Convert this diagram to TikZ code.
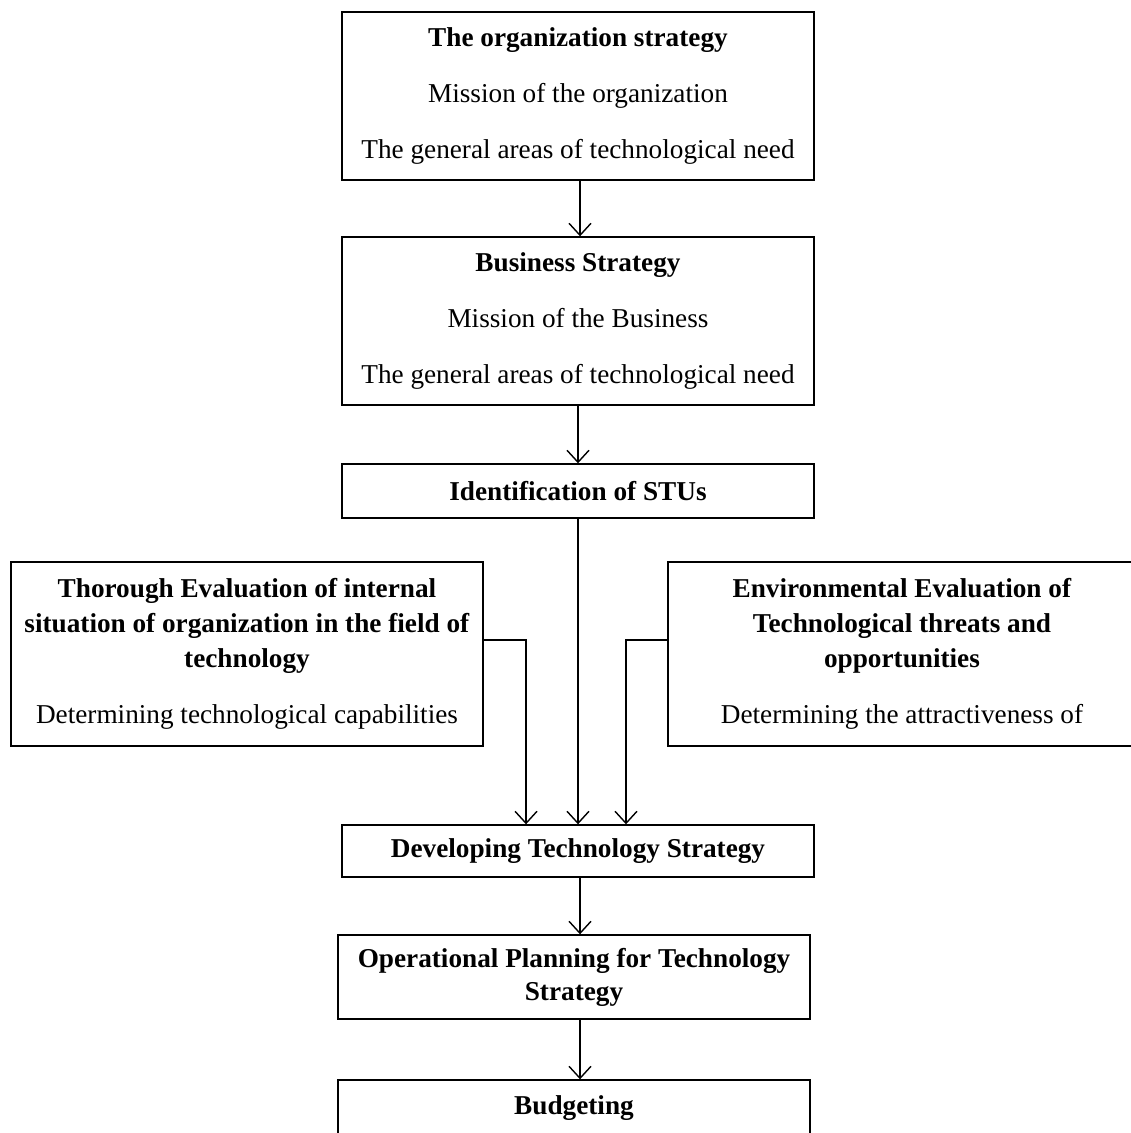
\documentclass[tikz,border=0pt]{standalone}
\usepackage{fontspec}
\setmainfont{Liberation Serif}
\usepackage{tikz}
\usetikzlibrary{positioning,calc,arrows.meta}

\begin{document}
\begin{tikzpicture}[x=0.02cm, y=-0.02cm,
    stagebox/.style={draw, line width=0.8pt, minimum width=9.44cm, align=center, inner sep=0pt,
        font=\fontsize{15.5}{31.7}\selectfont},
    flow/.style={line width=0.8pt, -{Straight Barb[length=2.4mm,width=4.4mm]}}]
    \useasboundingbox (0,0) rectangle (1130,1133);

    % Strategy levels
    \node[stagebox, minimum height=3.36cm] (org) at (578,96)
        {\textbf{The organization strategy}\\ Mission of the organization\\ The general areas of technological need};
    \node[stagebox, minimum height=3.36cm] (bus) at (578,321)
        {\textbf{Business Strategy}\\ Mission of the Business\\ The general areas of technological need};
    \node[stagebox, minimum height=1.08cm] (stu) at (578,491) {\textbf{Identification of STUs}};

    % Evaluations
    \node[stagebox, minimum height=3.68cm, font=\fontsize{15.5}{20}\selectfont] (internal) at (247,654)
        {\textbf{Thorough Evaluation of internal}\\ \textbf{situation of organization in the field of}\\ \textbf{technology}\\[11.7pt] Determining technological capabilities};
    \node[stagebox, minimum width=9.36cm, minimum height=3.68cm, font=\fontsize{15.5}{20}\selectfont] (external) at (902,654)
        {\textbf{Environmental Evaluation of}\\ \textbf{Technological threats and}\\ \textbf{opportunities}\\[11.7pt] Determining the attractiveness of};

    % Strategy development and planning
    \node[stagebox, minimum height=1.04cm] (dev) at (578,851) {\textbf{Developing Technology Strategy}};
    \node[stagebox, minimum height=1.68cm, font=\fontsize{15.5}{18.7}\selectfont] (plan) at (574,977)
        {\textbf{Operational Planning for Technology}\\ \textbf{Strategy}};
    \node[stagebox, minimum height=1.12cm] (budget) at (574,1108) {\textbf{Budgeting}};

    % Connectors
    \draw[flow] ([xshift=0.04cm]org.south) -- ([xshift=0.04cm]bus.north);
    \draw[flow] (bus.south) -- (stu.north);
    \draw[flow] (stu.south) -- (dev.north);
    \draw[flow] ([yshift=0.28cm]internal.east) -| ([xshift=-1.04cm]dev.north);
    \draw[flow] ([yshift=0.28cm]external.west) -| ([xshift=0.96cm]dev.north);
    \draw[flow] ([xshift=0.04cm]dev.south) -- ([xshift=0.04cm]dev.south |- plan.north);
    \draw[flow] ([xshift=0.12cm]plan.south) -- ([xshift=0.12cm]plan.south |- budget.north);
\end{tikzpicture}
\end{document}
